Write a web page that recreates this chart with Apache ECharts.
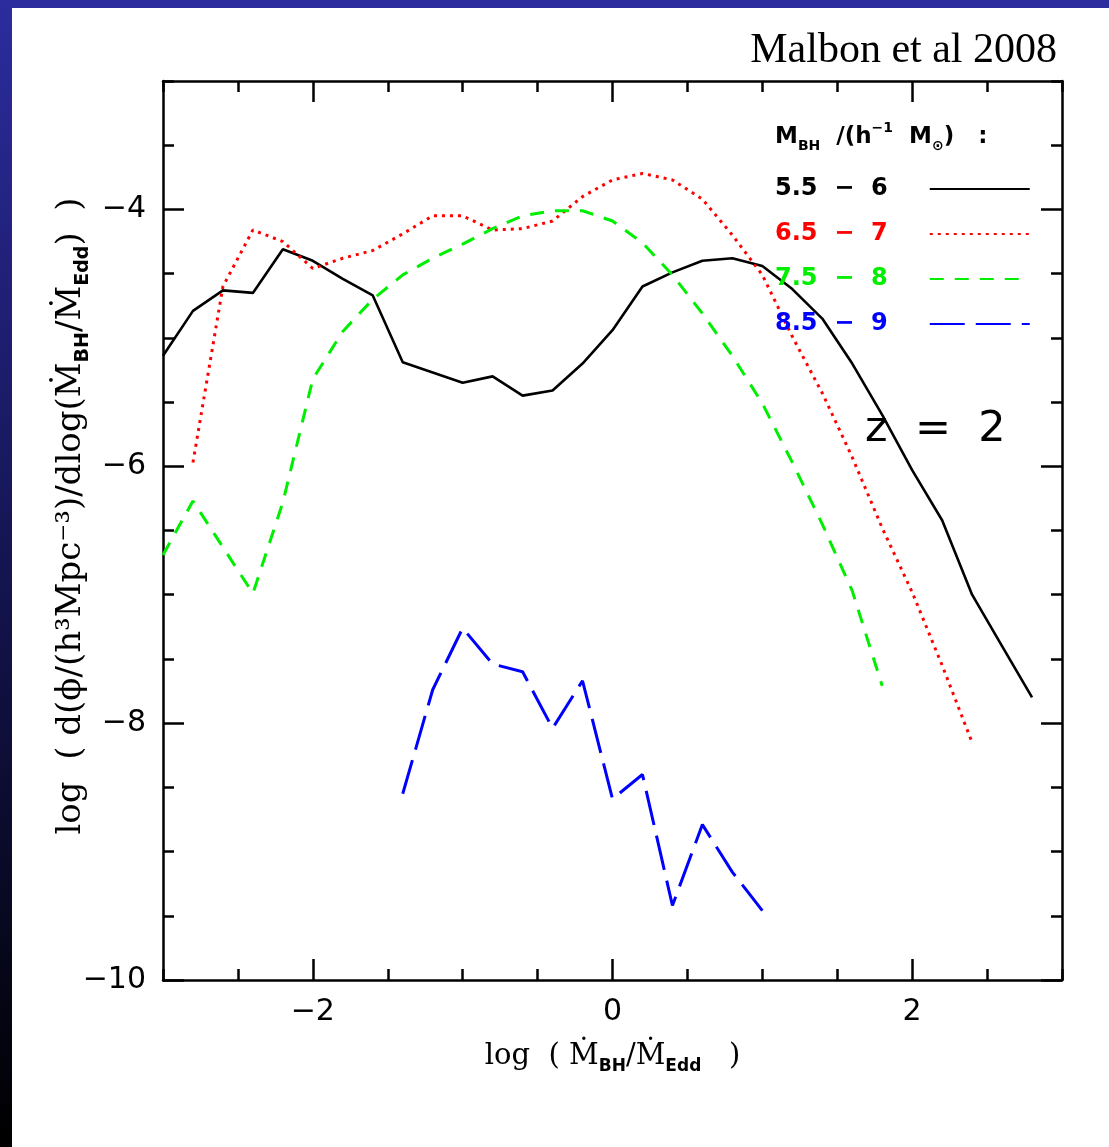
<!DOCTYPE html>
<html>
<head>
<meta charset="utf-8">
<script src="https://cdn.jsdelivr.net/npm/echarts@6/dist/echarts.min.js"></script>
<style>html,body{margin:0;padding:0;background:#fff}#c{width:1109px;height:1147px}</style>
</head>
<body>
<div id="c"></div>
<script>
// ---- data ----
const x55 = [-3.0,-2.8,-2.6,-2.4,-2.2,-2.0,-1.8,-1.6,-1.4,-1.2,-1.0,-0.8,-0.6,-0.4,-0.2,0.0,0.2,0.4,0.6,0.8,1.0,1.2,1.4,1.6,1.8,2.0,2.2,2.4,2.6,2.8];
const y55 = [-5.14,-4.79,-4.63,-4.65,-4.31,-4.40,-4.54,-4.67,-5.19,-5.27,-5.35,-5.30,-5.45,-5.41,-5.20,-4.94,-4.60,-4.49,-4.40,-4.38,-4.44,-4.62,-4.85,-5.20,-5.60,-6.03,-6.42,-7.00,-7.40,-7.80];

const x65 = [-2.8,-2.6,-2.4,-2.2,-2.0,-1.8,-1.6,-1.4,-1.2,-1.0,-0.8,-0.6,-0.4,-0.2,0.0,0.2,0.4,0.6,0.8,1.0,1.2,1.4,1.6,1.8,2.0,2.2,2.4];
const y65 = [-5.97,-4.60,-4.16,-4.25,-4.46,-4.38,-4.32,-4.19,-4.05,-4.05,-4.16,-4.15,-4.09,-3.90,-3.77,-3.72,-3.77,-3.92,-4.20,-4.51,-4.99,-5.43,-5.93,-6.48,-6.98,-7.55,-8.15];

const x75 = [-3.0,-2.8,-2.6,-2.4,-2.2,-2.0,-1.8,-1.6,-1.4,-1.2,-1.0,-0.8,-0.6,-0.4,-0.2,0.0,0.2,0.4,0.6,0.8,1.0,1.2,1.4,1.6,1.8];
const y75 = [-6.69,-6.27,-6.63,-6.99,-6.28,-5.32,-4.95,-4.70,-4.51,-4.38,-4.27,-4.15,-4.05,-4.01,-4.01,-4.09,-4.26,-4.51,-4.81,-5.14,-5.51,-5.97,-6.45,-6.97,-7.71];

const x85 = [-1.4,-1.2,-1.0,-0.8,-0.6,-0.4,-0.2,0.0,0.2,0.4,0.6,0.8,1.0];
const y85 = [-8.55,-7.74,-7.26,-7.54,-7.60,-8.04,-7.67,-8.59,-8.40,-9.42,-8.79,-9.16,-9.46];

const seriesNames = ['5.5  \u2212  6', '6.5  \u2212  7', '7.5  \u2212  8', '8.5  \u2212  9'];
const xMajorTicks = [-2, 0, 2];
const yMajorTicks = [-10, -8, -6, -4];

// ---- chart ----
const pairs = (xs, ys) => xs.map((v, i) => [v, ys[i]]);
const fmt = v => String(v).replace('-', '\u2212');
const tickStyle = {color: '#000', width: 2.5};

function majorAxis(pos, min, max, ticks, labels, extra) {
  return Object.assign({
    type: 'value', position: pos, min: min, max: max,
    axisLine: {show: true, onZero: false, lineStyle: {color: '#000', width: 2.5}},
    axisTick: {show: true, inside: true, length: 21, customValues: ticks, lineStyle: tickStyle},
    axisLabel: labels ? {show: true, customValues: ticks, formatter: fmt, color: '#000',
      fontFamily: 'DejaVu Sans', fontSize: 30, margin: 17} : {show: false},
    splitLine: {show: false}
  }, extra || {});
}
function minorAxis(pos, min, max) {
  return {
    type: 'value', position: pos, min: min, max: max, interval: 0.5,
    axisLine: {show: false, onZero: false},
    axisTick: {show: true, inside: true, length: 11, lineStyle: tickStyle},
    axisLabel: {show: false}, splitLine: {show: false}
  };
}

const xTitleRich = {
  t: {fontFamily: 'DejaVu Serif', fontSize: 29, color: '#000', lineHeight: 38, verticalAlign: 'middle'},
  s: {fontFamily: 'DejaVu Sans', fontWeight: 'bold', fontSize: 17, color: '#000', lineHeight: 17, verticalAlign: 'bottom'}
};
const yTitleRich = {
  t: {fontFamily: 'DejaVu Serif', fontSize: 34, fill: '#000', lineHeight: 44, verticalAlign: 'middle'},
  s: {fontFamily: 'DejaVu Sans', fontWeight: 'bold', fontSize: 19, fill: '#000', lineHeight: 19, verticalAlign: 'bottom'}
};

const chart = echarts.init(document.getElementById('c'), null, {renderer: 'canvas'});
chart.setOption({
  animation: false,
  backgroundColor: '#ffffff',
  grid: {left: 163, top: 81, width: 899, height: 899, containLabel: false},
  xAxis: [
    majorAxis('bottom', -3, 3, xMajorTicks, true, {
      name: '{t|log  ( \u1E40}{s|BH}{t|/\u1E40}{s|Edd}{t|   )}',
      nameLocation: 'middle', nameGap: 57,
      nameTextStyle: {rich: xTitleRich}
    }),
    minorAxis('bottom', -3, 3),
    majorAxis('top', -3, 3, xMajorTicks, false),
    minorAxis('top', -3, 3)
  ],
  yAxis: [
    majorAxis('left', -10, -3, yMajorTicks, true),
    minorAxis('left', -10, -3),
    majorAxis('right', -10, -3, yMajorTicks, false),
    minorAxis('right', -10, -3)
  ],
  legend: {
    orient: 'vertical', left: 775, top: 177, padding: 0,
    align: 'right', itemWidth: 100, itemHeight: 28, itemGap: 21,
    itemStyle: {opacity: 0},
    textStyle: {fontFamily: 'DejaVu Sans', fontWeight: 'bold', fontSize: 24, padding: [0, 37, 0, 0]},
    data: [
      {name: seriesNames[0], textStyle: {color: '#000000'}},
      {name: seriesNames[1], textStyle: {color: '#ff0000'}},
      {name: seriesNames[2], textStyle: {color: '#00ee00'}},
      {name: seriesNames[3], textStyle: {color: '#0000ff'}}
    ]
  },
  graphic: [
    {type: 'rect', shape: {x: 0, y: 0, width: 1109, height: 8}, style: {fill: '#2c2c9e'}, silent: true},
    {type: 'rect', shape: {x: 0, y: 0, width: 12, height: 1147}, silent: true,
      style: {fill: new echarts.graphic.LinearGradient(0, 0, 0, 1, [
        {offset: 0, color: '#2c2c9e'}, {offset: 0.5, color: '#141450'}, {offset: 1, color: '#000000'}])}},
    {type: 'text', x: 1057, y: 51, silent: true,
      style: {text: 'Malbon et al 2008', font: '42px "Liberation Serif"', fill: '#000', align: 'right', verticalAlign: 'middle'}},
    {type: 'text', x: 71, y: 516, rotation: Math.PI / 2, silent: true,
      style: {
        text: '{t|log  ( d(\u03D5/(h\u00B3Mpc\u207B\u00B3)/dlog(\u1E40}{s|BH}{t|/\u1E40}{s|Edd}{t|)  )}',
        align: 'center', verticalAlign: 'middle', rich: yTitleRich
      }},
    {type: 'text', x: 775, y: 137, silent: true,
      style: {
        text: '{m|M}{s|BH}{m|  /(h}{p|\u22121}{m|  M}{s|\u2299}{m|)   :}',
        align: 'left', verticalAlign: 'middle',
        rich: {
          m: {fontFamily: 'DejaVu Sans', fontWeight: 'bold', fontSize: 23, fill: '#000', lineHeight: 32, verticalAlign: 'middle'},
          s: {fontFamily: 'DejaVu Sans', fontWeight: 'bold', fontSize: 14, fill: '#000', lineHeight: 14, verticalAlign: 'bottom'},
          p: {fontFamily: 'DejaVu Sans', fontWeight: 'bold', fontSize: 14, fill: '#000', lineHeight: 14, verticalAlign: 'top'}
        }
      }},
    {type: 'text', x: 865, y: 430, silent: true,
      style: {text: 'z  =  2', font: '43px "DejaVu Sans"', fill: '#000', align: 'left', verticalAlign: 'middle'}}
  ],
  series: [
    {name: seriesNames[0], type: 'line', data: pairs(x55, y55), symbol: 'none', color: '#000000',
      lineStyle: {color: '#000000', width: 2.6, type: 'solid'}},
    {name: seriesNames[1], type: 'line', data: pairs(x65, y65), symbol: 'none', color: '#ff0000',
      lineStyle: {color: '#ff0000', width: 3, type: [3, 5]}},
    {name: seriesNames[2], type: 'line', data: pairs(x75, y75), symbol: 'none', color: '#00ee00',
      lineStyle: {color: '#00ee00', width: 3, type: [14, 11]}},
    {name: seriesNames[3], type: 'line', data: pairs(x85, y85), symbol: 'none', color: '#0000ff',
      lineStyle: {color: '#0000ff', width: 3, type: [35, 11]}}
  ]
});
</script>
</body>
</html>
